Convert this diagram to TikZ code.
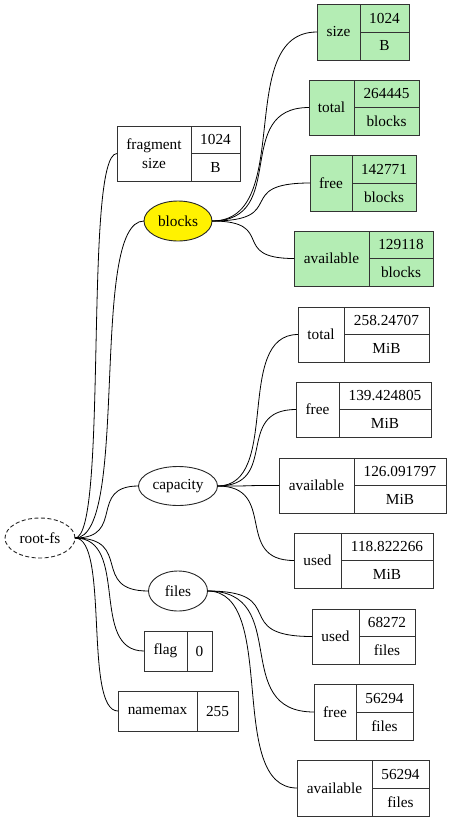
\documentclass[tikz,border=0pt]{standalone}
\usepackage{fontspec}
\setmainfont{Liberation Serif}
\usetikzlibrary{shapes.geometric,calc,positioning}
\definecolor{leafgreen}{RGB}{180,237,180}

% record: name, x, y, left width, right width, height, label, value, unit
\newcommand{\recnode}[9]{%
	\node[cell, anchor=north west, minimum width=#4pt, minimum height=#6pt] (#1) at (#2,#3) {#7};
	\node[cell, anchor=north west, minimum width=#5pt, minimum height=#6pt/2] (#1-val) at (#1.north east) {#8};
	\node[cell, anchor=north, minimum width=#5pt, minimum height=#6pt/2] (#1-unit) at (#1-val.south) {#9};
}

\begin{document}
\begin{tikzpicture}[x=1pt, y=-1pt,
		every node/.style={font=\fontsize{15.3}{18.5}\selectfont, inner sep=0pt, outer sep=0pt},
		cell/.style={shape=rectangle, draw=black!80, line width=0.9pt, align=center},
		blob/.style={shape=ellipse, draw=black!85, line width=0.9pt},
		link/.style={draw, line width=0.8pt}]
	\useasboundingbox (0,0) rectangle (451,820);

	% left column
	\node[blob, dash pattern=on 4pt off 2.5pt, minimum width=70pt, minimum height=40pt] (rootfs) at (40,538) {root-fs};
	\recnode{frag}{117}{126}{74}{49}{55}{fragment\\size}{1024}{B}
	\node[blob, fill=yellow, minimum width=68pt, minimum height=40pt] (blocks) at (178,221) {blocks};
	\node[blob, minimum width=79pt, minimum height=39pt] (capacity) at (178,486) {capacity};
	\node[blob, minimum width=59pt, minimum height=40pt] (files) at (178,591) {files};
	\node[cell, anchor=north west, minimum width=43pt, minimum height=40pt] (flag) at (144,631) {flag};
	\node[cell, anchor=north west, minimum width=25pt, minimum height=40pt] (flag-val) at (flag.north east) {0};
	\node[cell, anchor=north west, minimum width=79pt, minimum height=40pt] (namemax) at (118,691) {namemax};
	\node[cell, anchor=north west, minimum width=41pt, minimum height=40pt] (namemax-val) at (namemax.north east) {255};

	% blocks
	\begin{scope}[cell/.append style={fill=leafgreen}]
		\recnode{bsize}{317}{4}{43}{49}{56}{size}{1024}{B}
		\recnode{btotal}{309}{80}{45}{65}{55}{total}{264445}{blocks}
		\recnode{bfree}{310}{155}{42}{64}{56}{free}{142771}{blocks}
		\recnode{bavail}{294}{231}{75}{64}{55}{available}{129118}{blocks}
	\end{scope}

	% capacity
	\recnode{ctotal}{298}{307}{46}{85}{55}{total}{258.24707}{MiB}
	\recnode{cfree}{296}{382}{43}{92}{55}{free}{139.424805}{MiB}
	\recnode{cavail}{279}{458}{75}{92}{55}{available}{126.091797}{MiB}
	\recnode{cused}{294}{533}{47}{92}{55}{used}{118.822266}{MiB}

	% files
	\recnode{fused}{312}{609}{47}{56}{55}{used}{68272}{files}
	\recnode{ffree}{314}{684}{42}{57}{56}{free}{56294}{files}
	\recnode{favail}{297}{760}{75}{57}{56}{available}{56294}{files}

	\foreach \src/\dst in {rootfs/frag, rootfs/blocks, rootfs/capacity, rootfs/files, rootfs/flag, rootfs/namemax,
			blocks/bsize, blocks/btotal, blocks/bfree, blocks/bavail,
			capacity/ctotal, capacity/cfree, capacity/cavail, capacity/cused,
			files/fused, files/ffree, files/favail}
		\draw[link] let \p1=(\src.east), \p2=(\dst.west), \n1={0.8*(\x2-\x1)} in
			(\p1) .. controls +(\n1,0) and +(-\n1,0) .. (\p2);
\end{tikzpicture}
\end{document}
